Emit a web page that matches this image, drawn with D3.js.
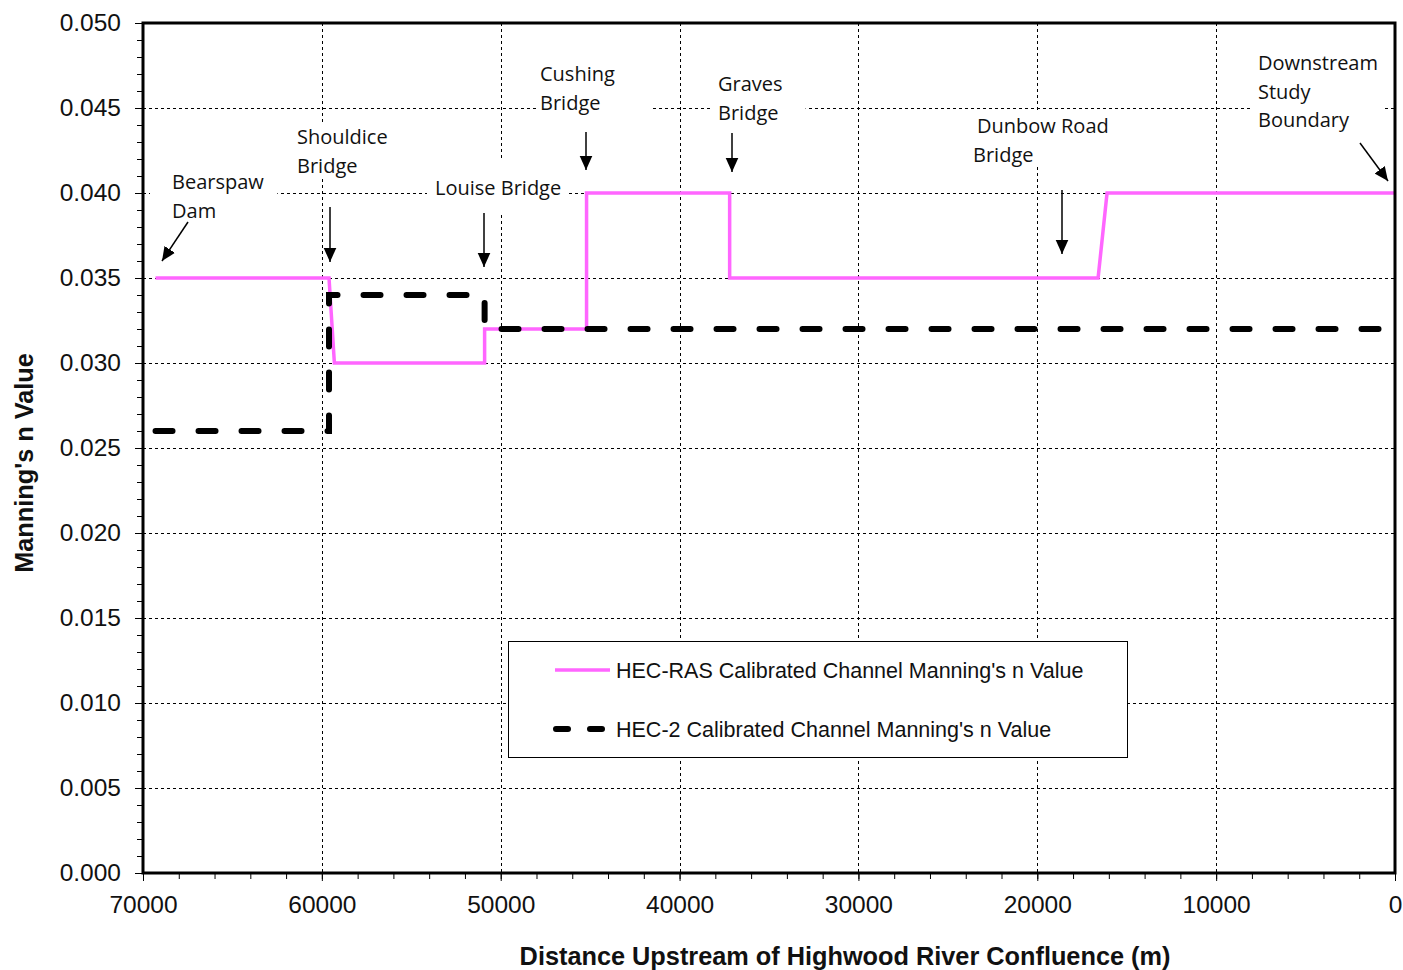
<!DOCTYPE html>
<html>
<head>
<meta charset="utf-8">
<script src="https://cdn.jsdelivr.net/npm/d3@7"></script>
<style>
  html, body { margin: 0; padding: 0; background: #fff; }
  svg { display: block; }
</style>
</head>
<body>
<svg id="chart" width="1403" height="970"></svg>
<script>
// Channel roughness along the Bow River reach (distance in m upstream of the Highwood confluence)
const hecRasDistance = [69300, 59600, 59300, 50900, 50900, 45200, 45200, 37200, 37200, 16600, 16100, 0];
const hecRasN        = [0.035, 0.035, 0.030, 0.030, 0.032, 0.032, 0.040, 0.040, 0.035, 0.035, 0.040, 0.040];

const hec2Distance = [69300, 59600, 59600, 50900, 50900, 0];
const hec2N        = [0.026, 0.026, 0.034, 0.034, 0.032, 0.032];

const xTickValues = [70000, 60000, 50000, 40000, 30000, 20000, 10000, 0];
const yTickValues = [0, 0.005, 0.010, 0.015, 0.020, 0.025, 0.030, 0.035, 0.040, 0.045, 0.050];

const seriesNames = [
  "HEC-RAS Calibrated Channel Manning's n Value",
  "HEC-2 Calibrated Channel Manning's n Value"
];

const xTitle = "Distance Upstream of Highwood River Confluence (m)";
const yTitle = "Manning's n Value";

// Landmark labels along the reach
const landmarkLabels = [
  ["Bearspaw", "Dam"],
  ["Shouldice", "Bridge"],
  ["Louise Bridge"],
  ["Cushing", "Bridge"],
  ["Graves", "Bridge"],
  ["Dunbow Road", "Bridge"],
  ["Downstream", "Study", "Boundary"]
];

// ---------------------------------------------------------------
const svg = d3.select("#chart");
const margin = { left: 143, top: 23, right: 8, bottom: 97 };
const W = 1403, H = 970;
const plotW = W - margin.left - margin.right;
const plotH = H - margin.top - margin.bottom;

const x = d3.scaleLinear().domain([70000, 0]).range([margin.left, margin.left + plotW]);
const y = d3.scaleLinear().domain([0, 0.05]).range([margin.top + plotH, margin.top]);

const pink = "#ff66ff";

// grid
const grid = svg.append("g").attr("stroke", "#000").attr("stroke-width", 1)
  .attr("stroke-dasharray", "3,3").attr("shape-rendering", "crispEdges");
grid.selectAll("line.h").data(yTickValues.filter(v => v > 0 && v < 0.05)).join("line")
  .attr("x1", x(70000)).attr("x2", x(0))
  .attr("y1", d => Math.round(y(d)) + 0.5).attr("y2", d => Math.round(y(d)) + 0.5);
grid.selectAll("line.v").data(xTickValues.filter(v => v > 0 && v < 70000)).join("line")
  .attr("y1", y(0.05)).attr("y2", y(0))
  .attr("x1", d => Math.round(x(d)) + 0.5).attr("x2", d => Math.round(x(d)) + 0.5);

// axes
const fmtY = d3.format(".3f");
const yMinor = d3.range(0, 0.0505, 0.001);
const xMinor = d3.range(0, 70001, 2000);

const yAxis = svg.append("g").attr("transform", `translate(${margin.left},0)`)
  .call(d3.axisLeft(y).tickValues(yMinor).tickSize(6).tickFormat(""));
const yAxisMajor = svg.append("g").attr("transform", `translate(${margin.left},0)`)
  .call(d3.axisLeft(y).tickValues(yTickValues).tickSize(8).tickPadding(14).tickFormat(fmtY));
const xAxis = svg.append("g").attr("transform", `translate(0,${margin.top + plotH})`)
  .call(d3.axisBottom(x).tickValues(xMinor).tickSize(6).tickFormat(""));
const xAxisMajor = svg.append("g").attr("transform", `translate(0,${margin.top + plotH})`)
  .call(d3.axisBottom(x).tickValues(xTickValues).tickSize(8).tickPadding(15).tickFormat(d3.format("d")));

[yAxis, yAxisMajor, xAxis, xAxisMajor].forEach(g => {
  g.select(".domain").remove();
  g.selectAll(".tick line").attr("stroke", "#000").attr("stroke-width", 1);
  g.selectAll("text").attr("font-family", "Liberation Sans, Arial, sans-serif")
    .attr("font-size", 24.5).attr("fill", "#111");
});

// series lines
const line = d3.line().x(d => x(d[0])).y(d => y(d[1]));
const rasPts = hecRasDistance.map((d, i) => [d, hecRasN[i]]);
const hec2Pts = hec2Distance.map((d, i) => [d, hec2N[i]]);

svg.append("path").datum(rasPts).attr("d", line)
  .attr("fill", "none").attr("stroke", pink).attr("stroke-width", 3.5)
  .attr("stroke-linejoin", "miter");

svg.append("path").datum(hec2Pts).attr("d", line)
  .attr("fill", "none").attr("stroke", "#000").attr("stroke-width", 6)
  .attr("stroke-linecap", "round").attr("stroke-dasharray", "17,26");

// frame
svg.append("rect")
  .attr("x", x(70000)).attr("y", y(0.05))
  .attr("width", x(0) - x(70000)).attr("height", y(0) - y(0.05))
  .attr("fill", "none").attr("stroke", "#000").attr("stroke-width", 3);

// landmark annotations: text block (left x, first line centre), box padding, arrow ends
const annLayout = [
  { tx: 172, ty: 182, pad: [22, 13, 14, 12], arrow: [[188, 222], [162, 261]] },
  { tx: 297, ty: 137, pad: [8, 8, 12, 12], arrow: [[330, 207], [330, 262]] },
  { tx: 435, ty: 188, pad: [8, 5, 28, 25], arrow: [[484, 213], [484, 267]] },
  { tx: 540, ty: 74,  pad: [3, 38, 14, 14], arrow: [[586, 132], [586, 170]] },
  { tx: 718, ty: 84,  pad: [5, 23, 14, 12], arrow: [[732, 133], [732, 172]] },
  { tx: 977, ty: 126, pad: [12, 6, 14, 12], arrow: [[1062, 190], [1062, 254]] },
  { tx: 1258, ty: 63, pad: [5, 6, 14, 14], arrow: [[1360, 143], [1388, 181]] }
];

const defs = svg.append("defs");
defs.append("marker").attr("id", "ah").attr("viewBox", "0 0 10 10")
  .attr("refX", 10).attr("refY", 5).attr("markerWidth", 14).attr("markerHeight", 14)
  .attr("markerUnits", "userSpaceOnUse").attr("orient", "auto")
  .append("path").attr("d", "M0,0.5L10,5L0,9.5Z").attr("fill", "#000");

const lineGap = 28.5;
const annG = svg.append("g");
landmarkLabels.forEach((lines, i) => {
  const L = annLayout[i];
  const g = annG.append("g");
  const bg = g.append("rect").attr("fill", "#fff");
  const t = g.append("text")
    .attr("font-family", "Open Sans, sans-serif").attr("font-size", 20).attr("fill", "#111");
  lines.forEach((s, j) => {
    t.append("tspan").attr("x", L.tx - (i === 5 && j === 1 ? 4 : 0))
      .attr("y", L.ty + j * lineGap).attr("dy", "0.35em").text(s);
  });
  const bb = t.node().getBBox();
  bg.attr("x", bb.x - L.pad[0]).attr("y", L.ty - L.pad[2])
    .attr("width", bb.width + L.pad[0] + L.pad[1])
    .attr("height", (lines.length - 1) * lineGap + L.pad[2] + L.pad[3]);
  g.append("line")
    .attr("x1", L.arrow[0][0]).attr("y1", L.arrow[0][1])
    .attr("x2", L.arrow[1][0]).attr("y2", L.arrow[1][1])
    .attr("stroke", "#000").attr("stroke-width", 1.5).attr("marker-end", "url(#ah)");
});

// legend
const leg = svg.append("g");
leg.append("rect").attr("x", 508.5).attr("y", 641.5).attr("width", 619).attr("height", 116)
  .attr("fill", "#fff").attr("stroke", "#000").attr("stroke-width", 1);
leg.append("line").attr("x1", 555).attr("x2", 610).attr("y1", 670).attr("y2", 670)
  .attr("stroke", pink).attr("stroke-width", 3.5);
leg.append("line").attr("x1", 556).attr("x2", 610).attr("y1", 729).attr("y2", 729)
  .attr("stroke", "#000").attr("stroke-width", 6).attr("stroke-linecap", "round")
  .attr("stroke-dasharray", "12,22");
seriesNames.forEach((s, i) => {
  leg.append("text").attr("x", 616).attr("y", 670 + i * 59).attr("dy", "0.35em")
    .attr("font-family", "Liberation Sans, Arial, sans-serif").attr("font-size", 21.5)
    .attr("fill", "#111").text(s);
});

// axis titles
svg.append("text").attr("x", 845).attr("y", 956).attr("dy", "0.35em")
  .attr("text-anchor", "middle").attr("font-family", "Liberation Sans, Arial, sans-serif")
  .attr("font-weight", "bold").attr("font-size", 25.3).attr("fill", "#111").text(xTitle);
svg.append("text").attr("transform", "translate(24,463) rotate(-90)").attr("dy", "0.35em")
  .attr("text-anchor", "middle").attr("font-family", "Liberation Sans, Arial, sans-serif")
  .attr("font-weight", "bold").attr("font-size", 25.3).attr("fill", "#111").text(yTitle);
</script>
</body>
</html>
